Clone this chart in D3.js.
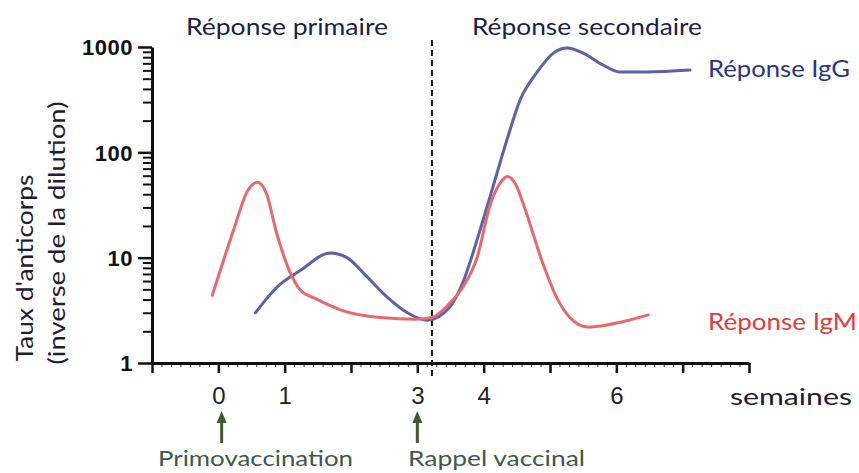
<!DOCTYPE html>
<html>
<head>
<meta charset="utf-8">
<script src="https://cdn.jsdelivr.net/npm/d3@7/dist/d3.min.js"></script>
<style>
  html, body { margin: 0; padding: 0; background: #fff; }
  svg { display: block; }
</style>
</head>
<body>
<svg id="chart" width="859" height="473"></svg>
<script>
// ---- data (weeks, antibody titre) ----
const igmWeeks  = [-0.09, 0.23, 0.44, 0.59, 0.73, 0.86, 1.08, 1.24, 1.46, 1.84, 2.44, 2.98, 3.22, 3.49, 3.69, 3.90, 4.10, 4.24, 4.36, 4.48, 4.60, 4.89, 5.10, 5.30, 5.56, 5.86, 6.20, 6.48];
const igmValues = [4.4, 18.3, 43, 52, 40, 19, 7.3, 4.9, 4.1, 3.2, 2.7, 2.6, 2.7, 3.7, 5.3, 10, 32, 50, 59, 50, 32, 8.9, 4.2, 2.7, 2.2, 2.3, 2.56, 2.86];
const iggWeeks  = [0.56, 0.89, 1.24, 1.69, 1.94, 2.24, 2.55, 2.85, 3.15, 3.49, 3.69, 3.90, 4.14, 4.35, 4.55, 4.80, 5.05, 5.26, 5.50, 5.80, 6.05, 6.46, 7.11];
const iggValues = [3.0, 5.3, 7.6, 11.1, 10, 6.6, 4.2, 3.0, 2.55, 3.4, 5.9, 14.7, 47, 131, 315, 570, 875, 980, 875, 675, 580, 580, 605];
const yTickValues = [1, 10, 100, 1000];
const xTickValues = [-1, 0, 1, 2, 3, 4, 5, 6, 7, 8];
const xTickLabels = ["", "0", "1", "", "3", "4", "", "6", "", ""];
const boosterWeek = 3.22;
const eventWeeks  = [0.05, 3.0];
const eventLabels = ["Primovaccination", "Rappel vaccinal"];

const svg = d3.select("#chart");
const x = d3.scaleLinear().domain([-1, 8]).range([152, 749]);
const y = d3.scaleLog().domain([1, 1000]).range([363, 47]);

const FONT = "Lato, 'Open Sans', sans-serif";
const NUMFONT = "'Liberation Sans', Arial, sans-serif";

// ---- y axis ----
const minorY = [];
[1, 10, 100].forEach(d => { for (let k = 2; k <= 9; k++) minorY.push(d * k); });
const gyMinor = svg.append("g").attr("transform", `translate(${x(-1)},0)`)
  .call(d3.axisLeft(y).tickValues(minorY).tickSize(9).tickFormat(""));
gyMinor.select(".domain").remove();
gyMinor.selectAll("line").attr("stroke", "#111").attr("stroke-width", 2);

const gy = svg.append("g").attr("transform", `translate(${x(-1)},0)`)
  .call(d3.axisLeft(y).tickValues(yTickValues).tickSize(14).tickSizeOuter(0).tickPadding(5)
    .tickFormat(d3.format("d")));
gy.select(".domain").attr("stroke", "#111").attr("stroke-width", 3);
gy.selectAll("line").attr("stroke", "#111").attr("stroke-width", 2.5);
gy.selectAll("text").attr("font-family", NUMFONT).attr("font-weight", "bold")
  .attr("font-size", 22).attr("fill", "#111").attr("dy", "0.36em")
  .attr("letter-spacing", "0.5px");

// ---- x axis ----
const minorX = d3.range(-7, 57).map(i => i / 7);
const gxMinor = svg.append("g").attr("transform", `translate(0,${y(1)})`)
  .call(d3.axisBottom(x).tickValues(minorX).tickSize(4).tickFormat(""));
gxMinor.select(".domain").remove();
gxMinor.selectAll("line").attr("stroke", "#333").attr("stroke-width", 1);

const gx = svg.append("g").attr("transform", `translate(0,${y(1)})`)
  .call(d3.axisBottom(x).tickValues(xTickValues).tickSize(10).tickSizeOuter(0).tickPadding(14)
    .tickFormat((d, i) => xTickLabels[i]));
gx.select(".domain").attr("stroke", "#111").attr("stroke-width", 3);
gx.selectAll("line").attr("stroke", "#111").attr("stroke-width", 2.5);
gx.selectAll("text").attr("font-family", NUMFONT).attr("font-size", 24).attr("fill", "#222");

// ---- booster dashed line ----
svg.append("line")
  .attr("x1", x(boosterWeek)).attr("x2", x(boosterWeek))
  .attr("y1", 40).attr("y2", 376)
  .attr("stroke", "#111").attr("stroke-width", 2).attr("stroke-dasharray", "6,4");

// ---- curves ----
const line = d3.line().x(d => x(d[0])).y(d => y(d[1])).curve(d3.curveMonotoneX);
svg.append("path").datum(d3.zip(iggWeeks, iggValues))
  .attr("d", line).attr("fill", "none").attr("stroke", "#5a62ab").attr("stroke-width", 3)
  .attr("stroke-linecap", "round");
svg.append("path").datum(d3.zip(igmWeeks, igmValues))
  .attr("d", line).attr("fill", "none").attr("stroke", "#e9686b").attr("stroke-width", 3)
  .attr("stroke-linecap", "round");

// ---- texts ----
function label(txt, x0, yb, size, color, width) {
  const t = svg.append("text").attr("x", x0).attr("y", yb)
    .attr("font-family", FONT).attr("font-size", size).attr("fill", color).text(txt);
  if (width) t.attr("textLength", width).attr("lengthAdjust", "spacingAndGlyphs");
  return t;
}
label("Réponse primaire", 186, 35, 23, "#1a1f4a", 202);
label("Réponse secondaire", 472, 35, 23, "#1a1f4a", 230);
label("Réponse IgG", 708, 77, 23, "#2c3585", 142);
label("Réponse IgM", 708, 330, 23, "#e6393c", 149);
label("semaines", 730, 405, 23, "#1e2030", 122);

// y title
svg.append("text").attr("transform", "translate(33,268) rotate(-90)")
  .attr("text-anchor", "middle").attr("font-family", FONT).attr("font-size", 23)
  .attr("fill", "#1e2030").attr("textLength", 187).attr("lengthAdjust", "spacingAndGlyphs")
  .text("Taux d'anticorps");
svg.append("text").attr("transform", "translate(65,233) rotate(-90)")
  .attr("text-anchor", "middle").attr("font-family", FONT).attr("font-size", 23)
  .attr("fill", "#1e2030").attr("textLength", 263).attr("lengthAdjust", "spacingAndGlyphs")
  .text("(inverse de la dilution)");

// event arrows and labels
const arrowColor = "#3e5a2f";
eventWeeks.forEach((w) => {
  const ax = x(w);
  svg.append("line").attr("x1", ax).attr("x2", ax).attr("y1", 420).attr("y2", 443)
    .attr("stroke", arrowColor).attr("stroke-width", 3);
  svg.append("path")
    .attr("d", `M${ax},411 L${ax - 5},423 L${ax + 5},423 Z`)
    .attr("fill", arrowColor);
});
label(eventLabels[0], 158, 466, 21, "#3b5a4a", 195);
label(eventLabels[1], 408, 466, 21, "#3b5a4a", 177);
</script>
</body>
</html>
